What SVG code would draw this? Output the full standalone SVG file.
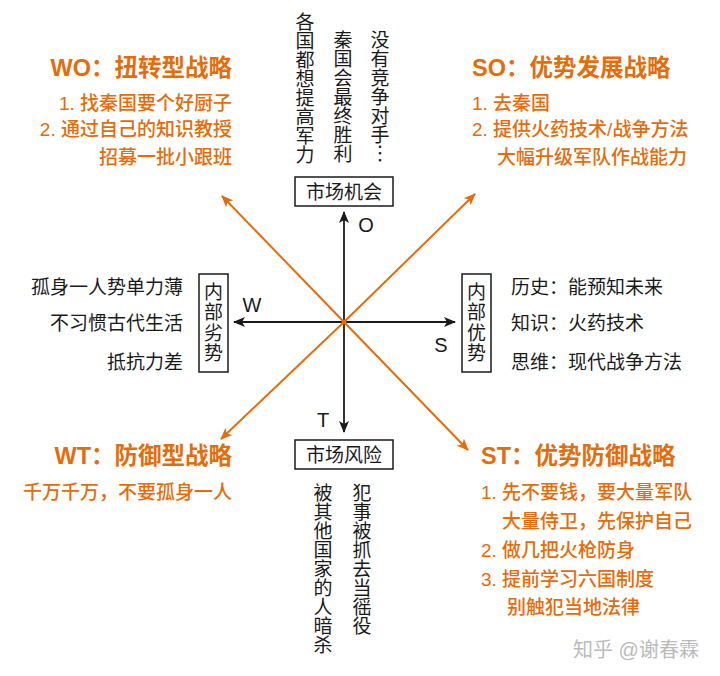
<svg xmlns="http://www.w3.org/2000/svg" width="720" height="676" viewBox="0 0 720 676">
<defs>
<style>
.t{font-family:"Liberation Sans","Noto Sans CJK SC",sans-serif;}
.blk{fill:#1a1a1a;font-size:19px;}
.org{fill:#E46C0A;font-size:19px;font-weight:500;}
.ttl{fill:#E46C0A;font-size:23.5px;font-weight:bold;}
.let{fill:#1a1a1a;font-size:20px;}
.box{fill:#fff;stroke:#1a1a1a;stroke-width:1.5;}
.ax{stroke:#1a1a1a;stroke-width:1.8;fill:none;}
.ol{stroke:#E46C0A;stroke-width:2;fill:none;}
.mid{text-anchor:middle;}
.end{text-anchor:end;}
</style>
<marker id="ab" markerUnits="userSpaceOnUse" markerWidth="12" markerHeight="10" refX="11" refY="5" orient="auto">
<path d="M0,0 L12,5 L0,10 L3,5 z" fill="#1a1a1a"/>
</marker>
<marker id="ao" markerUnits="userSpaceOnUse" markerWidth="12" markerHeight="10" refX="11" refY="5" orient="auto">
<path d="M0,0 L12,5 L0,10 L3,5 z" fill="#E46C0A"/>
</marker>
</defs>
<rect width="720" height="676" fill="#fff"/>

<g id="connectors">
<line class="ol" x1="344" y1="322" x2="222" y2="196" marker-end="url(#ao)"/>
<line class="ol" x1="344" y1="322" x2="475" y2="194" marker-end="url(#ao)"/>
<line class="ol" x1="344" y1="322" x2="221" y2="439" marker-end="url(#ao)"/>
<line class="ol" x1="344" y1="322" x2="468" y2="450" marker-end="url(#ao)"/>
<line class="ax" x1="344" y1="322" x2="344" y2="212" marker-end="url(#ab)"/>
<line class="ax" x1="344" y1="322" x2="344" y2="432" marker-end="url(#ab)"/>
<line class="ax" x1="344" y1="322" x2="234" y2="322" marker-end="url(#ab)"/>
<line class="ax" x1="344" y1="322" x2="455" y2="322" marker-end="url(#ab)"/>
<circle cx="344" cy="322" r="2.5" fill="#E46C0A"/>
<text class="t let mid" x="366" y="232">O</text>
<text class="t let mid" x="252" y="312">W</text>
<text class="t let mid" x="441" y="352">S</text>
<text class="t let mid" x="323" y="427">T</text>
</g>

<g id="opportunity">
<rect class="box" x="295" y="177" width="98" height="29"/>
<text class="t blk mid" x="344" y="198.5">市场机会</text>
<text class="t blk mid"><tspan x="305" y="29">各</tspan><tspan x="305" y="48">国</tspan><tspan x="305" y="67">都</tspan><tspan x="305" y="86">想</tspan><tspan x="305" y="105">提</tspan><tspan x="305" y="124">高</tspan><tspan x="305" y="143">军</tspan><tspan x="305" y="162">力</tspan></text>
<text class="t blk mid"><tspan x="343" y="47">秦</tspan><tspan x="343" y="66">国</tspan><tspan x="343" y="85">会</tspan><tspan x="343" y="104">最</tspan><tspan x="343" y="123">终</tspan><tspan x="343" y="142">胜</tspan><tspan x="343" y="161">利</tspan></text>
<text class="t blk mid"><tspan x="380" y="47">没</tspan><tspan x="380" y="66">有</tspan><tspan x="380" y="85">竞</tspan><tspan x="380" y="104">争</tspan><tspan x="380" y="123">对</tspan><tspan x="380" y="142">手</tspan><tspan x="380" y="161">︙</tspan></text>
</g>

<g id="threat">
<rect class="box" x="295" y="440" width="98" height="29"/>
<text class="t blk mid" x="344" y="461.5">市场风险</text>
<text class="t blk mid"><tspan x="323" y="499.5">被</tspan><tspan x="323" y="518.5">其</tspan><tspan x="323" y="537.5">他</tspan><tspan x="323" y="556.5">国</tspan><tspan x="323" y="575.5">家</tspan><tspan x="323" y="594.5">的</tspan><tspan x="323" y="613.5">人</tspan><tspan x="323" y="632.5">暗</tspan><tspan x="323" y="651.5">杀</tspan></text>
<text class="t blk mid"><tspan x="362" y="499.5">犯</tspan><tspan x="362" y="518.5">事</tspan><tspan x="362" y="537.5">被</tspan><tspan x="362" y="556.5">抓</tspan><tspan x="362" y="575.5">去</tspan><tspan x="362" y="594.5">当</tspan><tspan x="362" y="613.5">徭</tspan><tspan x="362" y="632.5">役</tspan></text>
</g>

<g id="weakness">
<rect class="box" x="199" y="274" width="29" height="98"/>
<text class="t blk mid"><tspan x="213.5" y="298.5">内</tspan><tspan x="213.5" y="319">部</tspan><tspan x="213.5" y="339.5">劣</tspan><tspan x="213.5" y="360">势</tspan></text>
<text class="t blk end" x="183" y="294">孤身一人势单力薄</text>
<text class="t blk end" x="183" y="330">不习惯古代生活</text>
<text class="t blk end" x="183" y="369">抵抗力差</text>
</g>

<g id="strength">
<rect class="box" x="462" y="274" width="29" height="98"/>
<text class="t blk mid"><tspan x="476.5" y="298.5">内</tspan><tspan x="476.5" y="319">部</tspan><tspan x="476.5" y="339.5">优</tspan><tspan x="476.5" y="360">势</tspan></text>
<text class="t blk" x="511" y="294">历史：能预知未来</text>
<text class="t blk" x="511" y="330">知识：火药技术</text>
<text class="t blk" x="511" y="369">思维：现代战争方法</text>
</g>

<g id="wo">
<text class="t ttl end" x="232" y="75.5">WO：扭转型战略</text>
<text class="t org end" x="232" y="110">1. 找秦国要个好厨子</text>
<text class="t org end" x="232" y="136">2. 通过自己的知识教授</text>
<text class="t org end" x="232" y="164">招募一批小跟班</text>
</g>

<g id="so">
<text class="t ttl" x="472" y="75.5">SO：优势发展战略</text>
<text class="t org" x="472" y="110">1. 去秦国</text>
<text class="t org" x="472" y="136">2. 提供火药技术/战争方法</text>
<text class="t org" x="497" y="164">大幅升级军队作战能力</text>
</g>

<g id="wt">
<text class="t ttl end" x="232" y="463.5">WT：防御型战略</text>
<text class="t org end" x="232" y="499">千万千万，不要孤身一人</text>
</g>

<g id="st">
<text class="t ttl" x="481" y="463.5">ST：优势防御战略</text>
<text class="t org" x="481" y="499">1. 先不要钱，要大量军队</text>
<text class="t org" x="502" y="528">大量侍卫，先保护自己</text>
<text class="t org" x="481" y="557">2. 做几把火枪防身</text>
<text class="t org" x="481" y="586">3. 提前学习六国制度</text>
<text class="t org" x="507" y="614">别触犯当地法律</text>
</g>

<text class="t mid" x="636" y="657" style="fill:#bbbbbb;font-size:20px;">知乎 @谢春霖</text>
</svg>
